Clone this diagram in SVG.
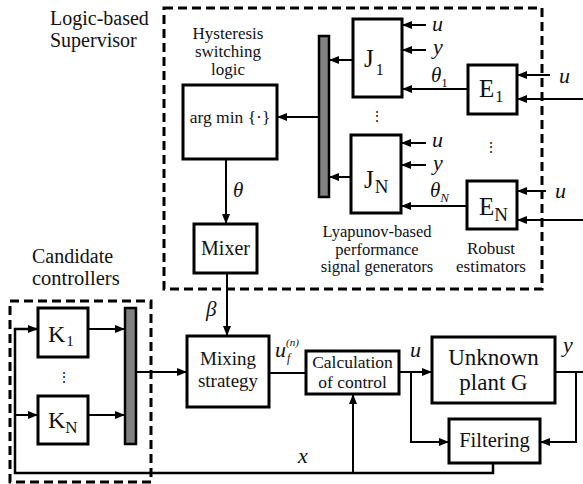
<svg xmlns="http://www.w3.org/2000/svg" width="583" height="484" viewBox="0 0 583 484" font-family="'Liberation Serif', 'Times New Roman', serif">
<defs>
<marker id="ah" markerUnits="userSpaceOnUse" markerWidth="11" markerHeight="9" refX="10" refY="4" orient="auto">
<path d="M0,0 L10,4 L0,8 z" fill="#000"/>
</marker>
<style>
.box{fill:#fff;stroke:#000;stroke-width:3}
.bar{fill:#808080;stroke:#000;stroke-width:2.5}
.dash{fill:none;stroke:#000;stroke-width:3;stroke-dasharray:9,5}
.c{fill:none;stroke:#000;stroke-width:2}
.ca{fill:none;stroke:#000;stroke-width:2;marker-end:url(#ah)}
text{fill:#111}
.var{font-style:italic;font-size:22px}
</style>
</defs>
<rect class="dash" x="164" y="8" width="378" height="281"/>
<rect class="dash" x="10" y="301" width="141" height="181"/>
<text x="50" y="25" font-size="20">Logic-based</text>
<text x="50" y="47" font-size="20">Supervisor</text>
<text x="32" y="263" font-size="20">Candidate</text>
<text x="32" y="285" font-size="20.5">controllers</text>
<g text-anchor="middle" font-size="17">
<text x="228" y="39">Hysteresis</text>
<text x="228" y="57">switching</text>
<text x="228" y="75">logic</text>
<text x="377" y="237" font-size="16.5">Lyapunov-based</text>
<text x="377" y="254.5" font-size="16.5">performance</text>
<text x="377" y="272" font-size="16.5">signal generators</text>
<text x="491" y="254">Robust</text>
<text x="491" y="272">estimators</text>
</g>
<g id="connectors">
<path class="ca" d="M319,117 H277"/>
<path class="ca" d="M353,60 H329"/>
<path class="ca" d="M351,177 H329"/>
<path class="ca" d="M426,25 H402"/>
<path class="ca" d="M426,50 H402"/>
<path class="ca" d="M468,89 H402"/>
<path class="ca" d="M550,75 H517"/>
<path class="ca" d="M583,99 H517"/>
<path class="ca" d="M426,143 H401"/>
<path class="ca" d="M426,165 H401"/>
<path class="ca" d="M467,206 H401"/>
<path class="ca" d="M546,191 H517"/>
<path class="ca" d="M583,220 H517"/>
<path class="ca" d="M226,159 V224"/>
<path class="ca" d="M227,273 V336"/>
<path class="ca" d="M88,329 H125"/>
<path class="ca" d="M88,415 H125"/>
<path class="ca" d="M136,372 H187"/>
<path class="c" d="M269,373 H306"/>
<path class="ca" d="M399,372 H432"/>
<path class="ca" d="M411,372 V442 H449"/>
<path class="c" d="M555,372 H583"/>
<path class="ca" d="M576,372 V442 H540"/>
<path class="ca" d="M493,463 V473 H15 V329 H38" style="stroke-width:2.5"/>
<path class="ca" d="M15,415 H38"/>
<path class="ca" d="M353,473 V394"/>
</g>
<g id="mux-sup"><rect class="bar" x="319" y="36" width="10" height="161"/></g>
<g id="mux-k"><rect class="bar" x="125" y="308" width="11" height="136"/></g>
<g id="argmin">
<rect class="box" x="183" y="85" width="94" height="74"/>
<text x="230" y="123" text-anchor="middle" font-size="17.5">arg min {·}</text>
</g>
<g id="J1">
<rect class="box" x="353" y="19" width="49" height="78"/>
<text x="364" y="67" font-size="25">J<tspan dx="2" dy="8" font-size="16">1</tspan></text>
</g>
<g id="JN">
<rect class="box" x="351" y="135" width="50" height="78"/>
<text x="364" y="188" font-size="25">J<tspan dx="1" dy="5" font-size="19">N</tspan></text>
</g>
<g id="E1">
<rect class="box" x="468" y="65" width="49" height="49"/>
<text x="479" y="97" font-size="25">E<tspan dx="1" dy="5" font-size="16">1</tspan></text>
</g>
<g id="EN">
<rect class="box" x="467" y="181" width="50" height="48"/>
<text x="479" y="215" font-size="25">E<tspan dy="6" font-size="19">N</tspan></text>
</g>
<g id="mixer">
<rect class="box" x="194" y="224" width="63" height="49"/>
<text x="225.5" y="255" text-anchor="middle" font-size="20">Mixer</text>
</g>
<g id="K1">
<rect class="box" x="38" y="308" width="50" height="49"/>
<text x="48" y="342" font-size="24">K<tspan dx="1" dy="4" font-size="15">1</tspan></text>
</g>
<g id="KN">
<rect class="box" x="38" y="396" width="50" height="48"/>
<text x="48" y="428" font-size="24">K<tspan dy="5" font-size="17">N</tspan></text>
</g>
<g id="mixing">
<rect class="box" x="187" y="336" width="82" height="71"/>
<text x="228" y="365" text-anchor="middle" font-size="19">Mixing</text>
<text x="228" y="387" text-anchor="middle" font-size="19">strategy</text>
</g>
<g id="calc">
<rect class="box" x="306" y="351" width="93" height="43"/>
<text x="352.5" y="368" text-anchor="middle" font-size="17.5">Calculation</text>
<text x="352.5" y="388" text-anchor="middle" font-size="17.5">of control</text>
</g>
<g id="plant">
<rect class="box" x="432" y="337" width="123" height="66"/>
<text x="493.5" y="365" text-anchor="middle" font-size="23">Unknown</text>
<text x="493.5" y="390" text-anchor="middle" font-size="23">plant G</text>
</g>
<g id="filtering">
<rect class="box" x="449" y="419" width="91" height="44"/>
<text x="494.5" y="447" text-anchor="middle" font-size="20.5">Filtering</text>
</g>
<g id="labels">
<text class="var" x="432" y="31">u</text>
<text class="var" x="433" y="54" font-size="20">y</text>
<text x="431" y="82" font-size="21" font-style="italic">θ<tspan dy="5" font-size="13" font-style="normal">1</tspan></text>
<text class="var" x="559" y="83">u</text>
<text class="var" x="432" y="147">u</text>
<text class="var" x="433" y="170" font-size="20">y</text>
<text x="430" y="197" font-size="21" font-style="italic">θ<tspan dy="5" font-size="13">N</tspan></text>
<text class="var" x="555" y="198">u</text>
<text x="233" y="197" font-size="21" font-style="italic">θ</text>
<text x="206" y="316" font-size="21" font-style="italic">β</text>
<text class="var" x="275" y="357">u</text>
<text x="286" y="346" font-size="11" font-style="italic">(n)</text>
<text x="287" y="362" font-size="12" font-style="italic">f</text>
<text class="var" x="410" y="357">u</text>
<text class="var" x="563" y="352">y</text>
<text class="var" x="298" y="463">x</text>
</g>
<g id="ellipses" text-anchor="middle" font-size="14">
<text x="377" y="121">⋮</text>
<text x="491" y="152">⋮</text>
<text x="64" y="382">⋮</text>
</g>
</svg>
